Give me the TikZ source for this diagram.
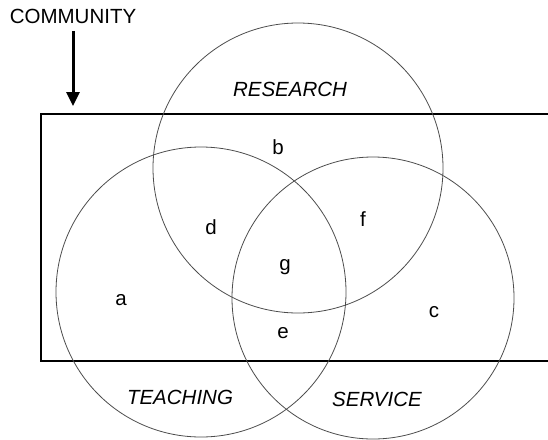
\documentclass[tikz,border=0pt]{standalone}
\usepackage{fontspec}
\setmainfont{Liberation Sans}
\usetikzlibrary{arrows.meta}

\begin{document}
\begin{tikzpicture}[x=1pt,y=-1pt,
    ring/.style={circle, draw=black!70, line width=0.8pt, inner sep=0pt},
    area/.style={font=\fontsize{20.5}{22}\selectfont},
    title/.style={font=\fontsize{20.5}{22}\selectfont\itshape}]

    \useasboundingbox (0,0) rectangle (548,439);

    % community frame, open at the right edge
    \draw[line width=2.2pt] (548,114) -- (41,114) -- (41,361) -- (548,361);

    \node[ring, minimum size=290pt] (research) at (298,168) {};
    \node[ring, minimum size=290pt] (teaching) at (201,292) {};
    \node[ring, minimum size=282pt] (service) at (373,298) {};

    \node[title] (resT) at (290,89) {RESEARCH};
    \node[title] (teaT) at (180,397) {TEACHING};
    \node[title] (serT) at (377,399) {SERVICE};

    \node[area] (a) at (121,300) {a};
    \node[area] (b) at (278,147) {b};
    \node[area] (c) at (434,312) {c};
    \node[area] (d) at (211,227) {d};
    \node[area] (e) at (283,333) {e};
    \node[area] (f) at (363,219) {f};
    \node[area] (g) at (285,267) {g};

    \node[area] (comm) at (73,16) {COMMUNITY};
    \coordinate (tip) at (73,106);
    \draw[line width=3pt, -{Triangle[length=14pt,width=13pt]}] (comm.south) ++(0,4) -- (tip);

\end{tikzpicture}
\end{document}
